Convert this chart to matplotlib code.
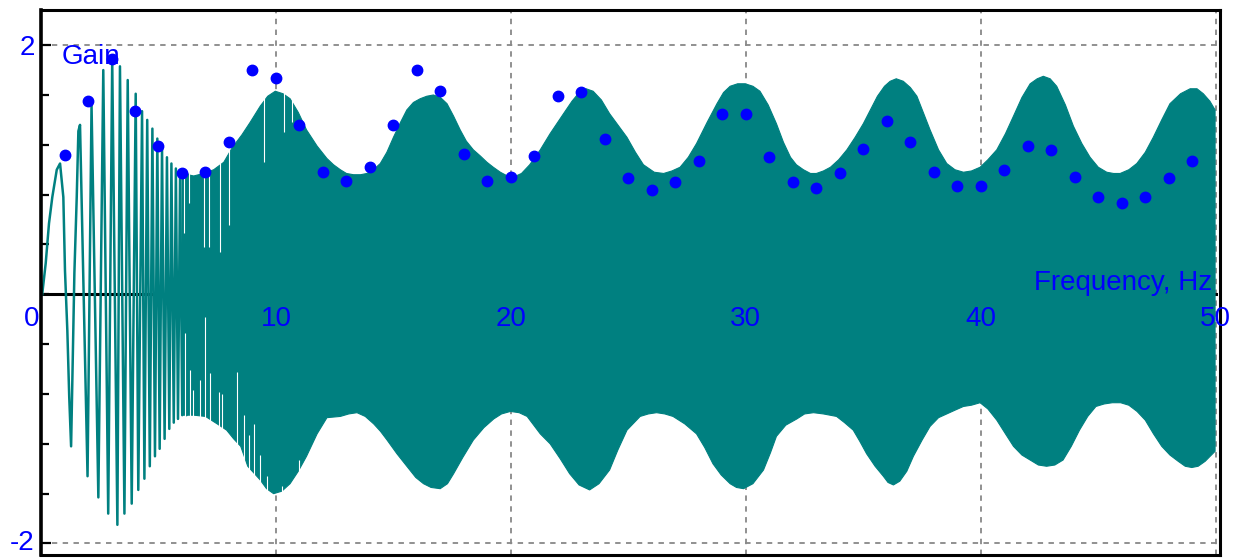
import numpy as np
import matplotlib.pyplot as plt
from matplotlib.patches import Polygon
from matplotlib.ticker import MultipleLocator

plt.rcParams['font.family'] = ['Liberation Sans', 'DejaVu Sans']

# measured gain at each test frequency (Hz)
freq = np.arange(1, 50)
gain = [1.12, 1.55, 1.89, 1.47, 1.19, 0.97, 0.98, 1.22, 1.80, 1.74,
        1.36, 0.98, 0.91, 1.02, 1.36, 1.80, 1.63, 1.13, 0.91, 0.94,
        1.11, 1.59, 1.62, 1.25, 0.93, 0.84, 0.90, 1.07, 1.45, 1.45,
        1.10, 0.90, 0.85, 0.97, 1.17, 1.39, 1.22, 0.98, 0.87, 0.87,
        1.00, 1.19, 1.16, 0.94, 0.78, 0.73, 0.78, 0.93, 1.07]

# sweep response, low end: individual swings
sweep_x = [0.05, 0.20, 0.34, 0.48, 0.67, 0.81, 0.95, 1.02, 1.12, 1.20,
           1.28, 1.42, 1.52, 1.59, 1.66, 1.98, 2.15, 2.44, 2.65, 2.86,
           3.03, 3.25, 3.36, 3.55, 3.69, 3.86, 4.03, 4.14, 4.30, 4.40,
           4.52, 4.63, 4.74, 4.85, 4.95, 5.05, 5.15, 5.26, 5.36, 5.46,
           5.55, 5.65, 5.74, 5.83, 5.92, 6.01, 6.10, 6.19, 6.28]
sweep_y = [0.0, 0.25, 0.57, 0.78, 1.00, 1.05, 0.78, 0.19, -0.29, -0.82,
           -1.22, 0.17, 0.78, 1.31, 1.36, -1.46, 1.52, -1.63, 1.80, -1.76,
           1.88, -1.85, 1.83, -1.76, 1.72, -1.68, 1.61, -1.57, 1.47, -1.48,
           1.40, -1.38, 1.33, -1.30, 1.25, -1.24, 1.18, -1.16, 1.10, -1.08,
           1.05, -1.03, 1.01, -1.00, 0.98, -0.97, 0.97, -0.97, 0.96]

# sweep response, upper and lower envelope where the swings merge
up_x = [6.0, 6.5, 6.92, 7.35, 7.78, 8.15, 8.55, 8.9, 9.33, 9.65,
        9.97, 10.3, 10.6, 10.95, 11.3, 11.75, 12.17, 12.45, 12.74, 13.0,
        13.3, 13.6, 13.87, 14.15, 14.44, 14.72, 15.0, 15.3, 15.57, 15.85,
        16.14, 16.42, 16.7, 17.0, 17.28, 17.56, 17.84, 18.1, 18.4, 18.7,
        18.98, 19.25, 19.55, 19.85, 20.1, 20.45, 20.8, 21.25, 21.67, 22.24,
        22.6, 22.95, 23.2, 23.5, 23.85, 24.2, 24.55, 24.94, 25.3, 25.64,
        26.1, 26.5, 26.85, 27.2, 27.55, 27.9, 28.35, 28.77, 29.05, 29.33,
        29.65, 29.97, 30.3, 30.6, 30.95, 31.3, 31.6, 31.9, 32.15, 32.45,
        32.75, 33.0, 33.3, 33.6, 33.95, 34.3, 34.65, 35.0, 35.3, 35.6,
        35.9, 36.14, 36.4, 36.7, 37.0, 37.28, 37.55, 37.84, 38.2, 38.55,
        38.9, 39.26, 39.6, 39.97, 40.3, 40.68, 41.05, 41.39, 41.75, 42.1,
        42.4, 42.66, 42.95, 43.23, 43.6, 43.94, 44.3, 44.65, 45.0, 45.36,
        45.65, 45.93, 46.3, 46.64, 47.0, 47.34, 47.7, 48.05, 48.5, 48.91,
        49.2, 49.47, 49.75, 49.97]
up_y = [0.97, 0.95, 0.97, 1.00, 1.06, 1.18, 1.28, 1.38, 1.51, 1.59,
        1.63, 1.61, 1.57, 1.46, 1.32, 1.19, 1.09, 1.04, 1.00, 0.97,
        0.96, 0.96, 0.97, 1.00, 1.05, 1.14, 1.26, 1.38, 1.48, 1.54,
        1.57, 1.59, 1.60, 1.58, 1.53, 1.43, 1.32, 1.23, 1.16, 1.11,
        1.06, 1.02, 0.98, 0.95, 0.94, 0.97, 1.04, 1.16, 1.29, 1.45,
        1.55, 1.63, 1.65, 1.63, 1.56, 1.45, 1.36, 1.26, 1.14, 1.04,
        0.98, 0.97, 0.99, 1.02, 1.10, 1.21, 1.38, 1.53, 1.62, 1.67,
        1.69, 1.69, 1.67, 1.63, 1.52, 1.37, 1.22, 1.10, 1.04, 1.00,
        0.97, 0.97, 0.99, 1.02, 1.08, 1.16, 1.26, 1.37, 1.48, 1.59,
        1.67, 1.71, 1.73, 1.71, 1.66, 1.59, 1.46, 1.32, 1.16, 1.05,
        1.00, 0.98, 0.99, 1.02, 1.08, 1.16, 1.29, 1.43, 1.58, 1.69,
        1.73, 1.75, 1.73, 1.67, 1.52, 1.35, 1.21, 1.10, 1.02, 0.98,
        0.97, 0.97, 1.00, 1.05, 1.14, 1.26, 1.40, 1.53, 1.61, 1.65,
        1.65, 1.61, 1.55, 1.48]
lo_x = [6.0, 6.5, 7.0, 7.5, 7.9, 8.2, 8.5, 8.8, 9.33, 9.6,
        9.9, 10.25, 10.6, 10.95, 11.3, 11.75, 12.17, 12.74, 13.1, 13.45,
        13.8, 14.16, 14.45, 14.73, 15.15, 15.57, 15.95, 16.28, 16.6, 16.99,
        17.3, 17.56, 17.95, 18.4, 18.85, 19.27, 19.6, 19.98, 20.35, 20.69,
        21.25, 21.67, 22.1, 22.5, 22.9, 23.35, 23.75, 24.2, 24.55, 24.94,
        25.5, 25.85, 26.2, 26.55, 26.9, 27.4, 27.9, 28.25, 28.6, 28.95,
        29.33, 29.6, 29.9, 30.3, 30.75, 31.05, 31.3, 31.7, 32.17, 32.5,
        32.88, 33.3, 33.86, 34.2, 34.57, 34.85, 35.14, 35.5, 35.85, 36.05,
        36.28, 36.55, 36.85, 37.13, 37.5, 37.84, 38.2, 38.55, 38.9, 39.26,
        39.6, 39.97, 40.3, 40.68, 41.05, 41.39, 41.75, 42.1, 42.45, 42.8,
        43.15, 43.5, 43.85, 44.2, 44.55, 44.9, 45.25, 45.6, 45.95, 46.3,
        46.65, 47.0, 47.35, 47.7, 48.05, 48.4, 48.7, 48.98, 49.25, 49.55,
        49.97]
lo_y = [-0.97, -0.97, -0.98, -1.04, -1.09, -1.16, -1.22, -1.38, -1.49, -1.56,
        -1.60, -1.58, -1.52, -1.42, -1.30, -1.12, -0.99, -0.98, -0.96, -0.95,
        -0.98, -1.04, -1.10, -1.17, -1.28, -1.38, -1.47, -1.52, -1.55, -1.56,
        -1.52, -1.44, -1.31, -1.17, -1.07, -1.00, -0.96, -0.94, -0.95, -0.98,
        -1.12, -1.20, -1.32, -1.44, -1.53, -1.57, -1.52, -1.41, -1.25, -1.09,
        -0.98, -0.96, -0.95, -0.96, -0.98, -1.04, -1.12, -1.23, -1.36, -1.45,
        -1.52, -1.55, -1.56, -1.52, -1.41, -1.27, -1.14, -1.05, -1.00, -0.96,
        -0.95, -0.96, -0.98, -1.03, -1.09, -1.18, -1.28, -1.38, -1.46, -1.51,
        -1.53, -1.50, -1.42, -1.30, -1.17, -1.06, -0.99, -0.96, -0.93, -0.90,
        -0.89, -0.87, -0.92, -1.01, -1.12, -1.22, -1.29, -1.33, -1.37, -1.38,
        -1.37, -1.33, -1.22, -1.09, -0.98, -0.90, -0.88, -0.87, -0.87, -0.89,
        -0.94, -1.01, -1.12, -1.22, -1.29, -1.34, -1.38, -1.39, -1.38, -1.34,
        -1.26]

# gaps between swings that still show through
gap_top_x = [6.1, 6.3, 6.92, 7.13, 7.63, 7.99, 9.47, 10.34, 10.7]
gap_top_end = [0.49, 0.73, 0.38, 0.38, 0.34, 0.56, 1.06, 1.30, 1.38]
gap_bot_x = [6.13, 6.33, 6.47, 6.75, 7.0, 7.2, 7.56, 7.7, 8.35,
             8.63, 8.84, 9.06, 9.33, 9.6, 10.24, 11.0]
gap_bot_end = [-0.31, -0.61, -0.77, -0.69, -0.18, -0.63, -0.78, -0.80, -0.62,
               -0.97, -1.13, -1.04, -1.29, -1.46, -1.54, -1.33]

x_labels = [0, 10, 20, 30, 40, 50]

teal = '#008080'
blue = '#0000ff'

fig = plt.figure(figsize=(12.43, 5.6), dpi=100)
ax = fig.add_axes([0.033, 0.009, 0.9485, 0.974])
ax.set_xlim(0, 50.18)
ax.set_ylim(-2.092, 2.286)

# grid
for gx in x_labels[1:]:
    ax.axvline(gx, color='#888888', lw=1.3, ls=(0, (3, 3)), zorder=1)
for gy in (2, -2):
    ax.axhline(gy, color='#888888', lw=1.3, ls=(0, (3, 3)), zorder=1)
ax.plot([0, 50], [0, 0], color='black', lw=2.2, zorder=1.5)

# sweep
ax.plot(sweep_x, sweep_y, color=teal, lw=1.8, zorder=2)
env = list(zip(up_x, up_y)) + list(zip(lo_x, lo_y))[::-1]
ax.add_patch(Polygon(env, closed=True, facecolor=teal, edgecolor=teal,
                     lw=0.8, zorder=2))
ax.vlines(gap_top_x, gap_top_end, 1.7, color='white', lw=0.8, zorder=2.5)
ax.vlines(gap_bot_x, -1.65, gap_bot_end, color='white', lw=0.8, zorder=2.5)

# gain points
ax.plot(freq, gain, 'o', color=blue, ms=7.5, zorder=4)

# labels
for v in x_labels:
    if v == 0:
        ax.text(-0.07, -0.195, '0', color=blue, fontsize=20, ha='right',
                va='center', clip_on=False)
    else:
        ax.text(v, -0.195, str(v), color=blue, fontsize=20, ha='center',
                va='center', zorder=5, clip_on=False)
ax.text(-0.27, 1.98, '2', color=blue, fontsize=20, ha='right', va='center',
        clip_on=False)
ax.text(-0.27, -2.0, '-2', color=blue, fontsize=20, ha='right', va='center',
        clip_on=False)
ax.text(0.86, 1.846, 'Gain', color=blue, fontsize=20, ha='left',
        va='baseline', zorder=3)
ax.text(49.83, 0.035, 'Frequency, Hz', color=blue, fontsize=20, ha='right',
        va='baseline', zorder=5)

# frame and ticks
for side, s in ax.spines.items():
    s.set_color('black')
    s.set_linewidth(2.2)
ax.spines['left'].set_linewidth(2.6)
ax.set_xticks([])
ax.set_yticks([-2, 2])
ax.yaxis.set_minor_locator(MultipleLocator(0.4))
ax.tick_params(axis='y', which='major', direction='in', length=7.5,
               width=1.6, labelleft=False)
ax.tick_params(axis='y', which='minor', direction='in', length=5.5,
               width=1.6)

fig.savefig('out.png', dpi=100)
